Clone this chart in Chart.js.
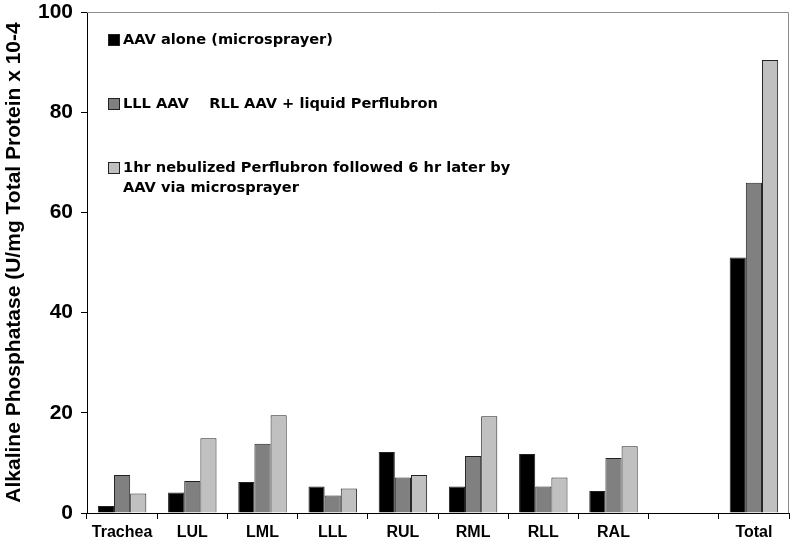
<!DOCTYPE html>
<html lang="en">
<head>
<meta charset="UTF-8">
<title>Alkaline Phosphatase</title>
<script src="https://cdn.jsdelivr.net/npm/chart.js@4/dist/chart.umd.min.js"></script>
<style>
  html, body { margin: 0; padding: 0; background: #fff; }
  #wrap { width: 793px; height: 545px; }
</style>
</head>
<body>
<div id="wrap"><canvas id="alpChart" width="793" height="545"></canvas></div>
<script>
    // categories (one empty slot before Total, as in the original)
    const categories = ['Trachea', 'LUL', 'LML', 'LLL', 'RUL', 'RML', 'RLL', 'RAL', '', 'Total'];

    // series values
    const aavAlone = [1.4, 4.1, 6.2, 5.3, 12.2, 5.3, 11.8, 4.4, null, 51.0];
    const liquidPerflubron = [7.6, 6.4, 13.8, 3.5, 7.1, 11.4, 5.3, 11.0, null, 65.9];
    const nebulizedPerflubron = [3.9, 14.9, 19.5, 4.9, 7.6, 19.3, 7.1, 13.3, null, 90.4];

    const yTicks = [0, 20, 40, 60, 80, 100];

    const seriesLabels = [
        ['AAV alone (microsprayer)'],
        ['LLL AAV    RLL AAV + liquid Perflubron'],
        ['1hr nebulized Perflubron followed 6 hr later by', 'AAV via microsprayer']
    ];
    const seriesColors = ['#000000', '#808080', '#c0c0c0'];

    // frame on top/right plus the hand-placed legend inside the plot
    const framePlugin = {
        id: 'frameAndLegend',
        beforeDatasetsDraw(chart) {
            const { ctx, chartArea: a } = chart;
            ctx.save();
            ctx.strokeStyle = '#8c8c8c';
            ctx.lineWidth = 1;
            ctx.beginPath();
            ctx.moveTo(a.left, a.top + 0.5);
            ctx.lineTo(a.right - 0.5, a.top + 0.5);
            ctx.lineTo(a.right - 0.5, a.bottom);
            ctx.stroke();
            ctx.restore();
        },
        afterDraw(chart) {
            const { ctx, chartArea: a } = chart;
            const rows = [40, 104, 168];
            ctx.save();
            ctx.font = 'bold 14.6px "DejaVu Sans"';
            ctx.textBaseline = 'middle';
            seriesLabels.forEach((lines, i) => {
                const y = rows[i];
                ctx.fillStyle = seriesColors[i];
                ctx.fillRect(a.left + 21, y - 6, 12, 12);
                ctx.strokeStyle = '#222';
                ctx.lineWidth = 1;
                ctx.strokeRect(a.left + 21.5, y - 5.5, 11, 11);
                ctx.fillStyle = '#000';
                lines.forEach((t, j) => {
                    ctx.fillText(t, a.left + 36, y + j * 20);
                });
            });
            ctx.restore();
        }
    };

    new Chart(document.getElementById('alpChart'), {
        type: 'bar',
        data: {
            labels: categories,
            datasets: [
                { label: seriesLabels[0].join(' '), data: aavAlone, backgroundColor: seriesColors[0] },
                { label: seriesLabels[1].join(' '), data: liquidPerflubron, backgroundColor: seriesColors[1] },
                { label: seriesLabels[2].join(' '), data: nebulizedPerflubron, backgroundColor: seriesColors[2] }
            ]
        },
        options: {
            responsive: false,
            animation: false,
            layout: { padding: { top: 12, right: 4, left: 0, bottom: 0 } },
            datasets: {
                bar: {
                    borderColor: '#222',
                    borderWidth: 1,
                    categoryPercentage: 0.69,
                    barPercentage: 1.0
                }
            },
            plugins: {
                legend: { display: false },
                tooltip: { enabled: false }
            },
            scales: {
                x: {
                    offset: true,
                    grid: {
                        offset: true,
                        drawOnChartArea: false,
                        drawTicks: true,
                        tickLength: 6,
                        color: '#000'
                    },
                    border: { color: '#000', width: 1 },
                    ticks: {
                        color: '#000',
                        font: { family: 'Liberation Sans', weight: 'bold', size: 16 },
                        padding: 4,
                        maxRotation: 0,
                        autoSkip: false
                    },
                    afterFit(scale) { scale.height = 32; }
                },
                y: {
                    min: 0,
                    max: 100,
                    afterBuildTicks(scale) { scale.ticks = yTicks.map(v => ({ value: v })); },
                    grid: {
                        drawOnChartArea: false,
                        drawTicks: true,
                        tickLength: 6,
                        color: '#000'
                    },
                    border: { color: '#000', width: 1 },
                    ticks: {
                        color: '#000',
                        font: { family: 'Liberation Sans', weight: 'bold', size: 21 },
                        padding: 8
                    },
                    title: {
                        display: true,
                        text: 'Alkaline Phosphatase (U/mg Total Protein x 10-4',
                        color: '#000',
                        font: { family: 'Liberation Sans', weight: 'bold', size: 21 },
                        padding: { top: 2, bottom: 0 }
                    },
                    afterFit(scale) {
                        scale.width = 87;
                        scale.paddingTop = 0;
                        scale.paddingBottom = 0;
                    }
                }
            }
        },
        plugins: [framePlugin]
    });
</script>
</body>
</html>
